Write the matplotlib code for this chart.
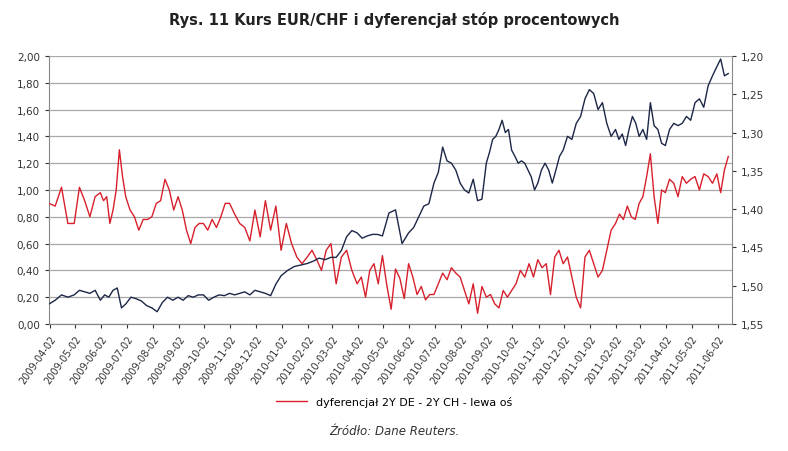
import numpy as np
import pandas as pd
import matplotlib
matplotlib.use('Agg')
import matplotlib.pyplot as plt
import matplotlib.dates as mdates
from matplotlib.ticker import FuncFormatter

# months (first of month) and readings per month
months = pd.date_range('2009-04-01', '2011-06-01', freq='MS')

# spread 2Y DE - 2Y CH (left axis)
spread = [
    [0.90, 0.88, 1.02, 0.75],
    [0.75, 1.02, 0.92, 0.80, 0.95],
    [0.98, 0.92, 0.95, 0.75, 0.85, 1.00, 1.30, 1.10],
    [0.95, 0.85, 0.80, 0.70, 0.78, 0.78],
    [0.80, 0.90, 0.92, 1.08, 1.00, 0.85],
    [0.95, 0.85, 0.70, 0.60, 0.72, 0.75],
    [0.75, 0.70, 0.78, 0.72, 0.80, 0.90],
    [0.90, 0.82, 0.75, 0.72, 0.62],
    [0.85, 0.65, 0.92, 0.70, 0.88],
    [0.55, 0.75, 0.60, 0.50, 0.45],
    [0.50, 0.55, 0.48, 0.40, 0.55],
    [0.60, 0.30, 0.50, 0.55, 0.40],
    [0.30, 0.35, 0.20, 0.40, 0.45, 0.30],
    [0.51, 0.29, 0.11, 0.41, 0.34, 0.19],
    [0.45, 0.35, 0.22, 0.28, 0.18, 0.22],
    [0.22, 0.30, 0.38, 0.33, 0.42, 0.38],
    [0.35, 0.25, 0.15, 0.30, 0.08, 0.28],
    [0.20, 0.22, 0.15, 0.12, 0.25, 0.20],
    [0.25, 0.30, 0.40, 0.35, 0.45, 0.35],
    [0.48, 0.42, 0.45, 0.22, 0.50, 0.55],
    [0.45, 0.50, 0.35, 0.20, 0.12, 0.50],
    [0.55, 0.45, 0.35, 0.40, 0.55, 0.70],
    [0.75, 0.82, 0.78, 0.88, 0.80, 0.78],
    [0.90, 0.95, 1.10, 1.27, 0.95, 0.75, 1.00],
    [0.98, 1.08, 1.05, 0.95, 1.10, 1.05],
    [1.08, 1.10, 1.00, 1.12, 1.10, 1.05],
    [1.12, 0.98, 1.15, 1.25],
]

# EUR/CHF (right axis, inverted)
eurchf = [
    [1.524, 1.519, 1.512, 1.515],
    [1.512, 1.506, 1.508, 1.510, 1.506],
    [1.519, 1.512, 1.515, 1.506, 1.503, 1.529],
    [1.524, 1.515, 1.517, 1.520, 1.526],
    [1.529, 1.534, 1.522, 1.515, 1.519],
    [1.515, 1.519, 1.513, 1.515, 1.512],
    [1.512, 1.519, 1.515, 1.512, 1.513],
    [1.510, 1.512, 1.510, 1.508, 1.512],
    [1.506, 1.508, 1.510, 1.513, 1.498],
    [1.487, 1.480, 1.475, 1.473],
    [1.471, 1.468, 1.464, 1.466],
    [1.463, 1.463, 1.454, 1.436, 1.428],
    [1.431, 1.438, 1.435, 1.433, 1.433],
    [1.435, 1.405, 1.401, 1.445],
    [1.431, 1.424, 1.410, 1.396, 1.393],
    [1.366, 1.352, 1.319, 1.337, 1.340, 1.349],
    [1.366, 1.375, 1.379, 1.361, 1.389, 1.387],
    [1.340, 1.326, 1.309, 1.305, 1.296, 1.284, 1.300, 1.296],
    [1.323, 1.331, 1.340, 1.337, 1.340, 1.349, 1.358, 1.375],
    [1.366, 1.349, 1.340, 1.349, 1.366, 1.349, 1.331],
    [1.323, 1.305, 1.309, 1.288, 1.279, 1.256],
    [1.244, 1.249, 1.270, 1.261, 1.288, 1.305],
    [1.296, 1.309, 1.302, 1.317, 1.296, 1.279, 1.288],
    [1.305, 1.296, 1.309, 1.261, 1.291, 1.296, 1.314],
    [1.317, 1.296, 1.288, 1.291, 1.288, 1.279],
    [1.284, 1.261, 1.256, 1.267, 1.239, 1.226],
    [1.214, 1.204, 1.226, 1.223],
]

tick_dates = months + pd.Timedelta(days=1)


def to_series(month_lists, last_span=0.6):
    xs, ys = [], []
    for i, vals in enumerate(month_lists):
        start = months[i]
        span = (months[i + 1] - start) if i + 1 < len(months) else pd.Timedelta(days=30 * last_span)
        for k, v in enumerate(vals):
            xs.append(start + span * (k / len(vals)))
            ys.append(v)
    return xs, ys


red = '#d7202c'
navy = '#1c2747'
comma = FuncFormatter(lambda v, p: f'{v:.2f}'.replace('.', ','))

fig = plt.figure(figsize=(7.88, 4.52), dpi=100)
ax = fig.add_axes([0.062, 0.281, 0.867, 0.593])
ax2 = ax.twinx()

x1, y1 = to_series(spread)
x2, y2 = to_series(eurchf)
ax.plot(x1, y1, color=red, lw=1.0, label='dyferencjał 2Y DE - 2Y CH - lewa oś', zorder=3)
ax2.plot(x2, y2, color=navy, lw=1.0)

ax.set_ylim(0, 2)
ax.set_yticks(np.arange(0, 2.01, 0.2))
ax.yaxis.set_major_formatter(comma)
ax.grid(axis='y', color='#a8a8a8', lw=0.9)
ax.set_axisbelow(True)

ax2.set_ylim(1.55, 1.20)
ax2.set_yticks(np.arange(1.20, 1.551, 0.05))
ax2.yaxis.set_major_formatter(comma)

ax.set_xlim(pd.Timestamp('2009-04-01'), pd.Timestamp('2011-06-19'))
ax.set_xticks(tick_dates)
ax.xaxis.set_major_formatter(mdates.DateFormatter('%Y-%m-%d'))

for a in (ax, ax2):
    a.tick_params(labelsize=7.5, colors='#333333', length=3)
    a.spines['top'].set_visible(False)
    a.spines['left'].set_color('#888888')
    a.spines['right'].set_color('#888888')
    a.spines['bottom'].set_color('#888888')
ax.spines['right'].set_visible(False)
ax2.spines['left'].set_visible(False)
ax.tick_params(axis='x', labelsize=7)
for lbl in ax.get_xticklabels():
    lbl.set_rotation(55)
    lbl.set_ha('right')
    lbl.set_rotation_mode('anchor')

fig.text(0.5, 0.955, 'Rys. 11 Kurs EUR/CHF i dyferencjał stóp procentowych',
         ha='center', va='center', fontsize=10.5, fontweight='bold', color='#222222')
fig.legend(loc='center', bbox_to_anchor=(0.5, 0.11), frameon=False, fontsize=8,
           handlelength=2.8)
fig.text(0.5, 0.045, 'Źródło: Dane Reuters.', ha='center', va='center',
         fontsize=8.5, style='italic', color='#333333')

fig.savefig('out.png', dpi=100)
